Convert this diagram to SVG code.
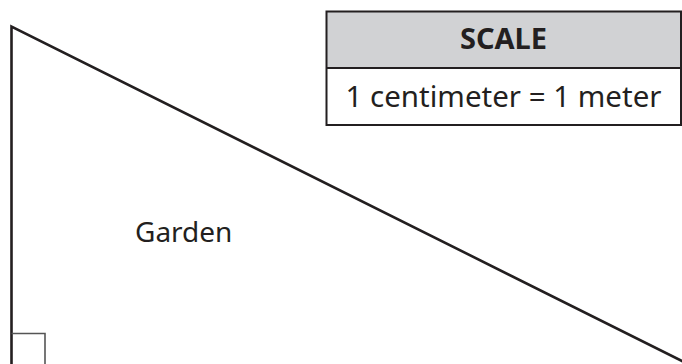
<svg xmlns="http://www.w3.org/2000/svg" width="682" height="364" viewBox="0 0 682 364">
<style>
.t{font-family:"Noto Sans","Open Sans",sans-serif;fill:#231f20}
</style>
<rect width="682" height="364" fill="#fff"/>
<g id="garden">
<path d="M11.5 364 V26.5 L684 362" fill="none" stroke="#231f20" stroke-width="2.6" stroke-linejoin="miter"/>
<path d="M11.5 333.5 H45 V364" fill="none" stroke="#555" stroke-width="1.6"/>
<text class="t" x="135" y="242" font-size="28">Garden</text>
</g>
<g id="scale">
<rect x="326.5" y="11.5" width="354.5" height="56.5" fill="#d1d2d4"/>
<rect x="326.5" y="11.5" width="354.5" height="113.5" fill="none" stroke="#231f20" stroke-width="2"/>
<line x1="326.5" y1="68" x2="681" y2="68" stroke="#231f20" stroke-width="2"/>
<text class="t" x="503.5" y="49" font-size="29" font-weight="bold" text-anchor="middle">SCALE</text>
<text class="t" x="503.5" y="107" font-size="29.5" text-anchor="middle">1 centimeter = 1 meter</text>
</g>
</svg>
